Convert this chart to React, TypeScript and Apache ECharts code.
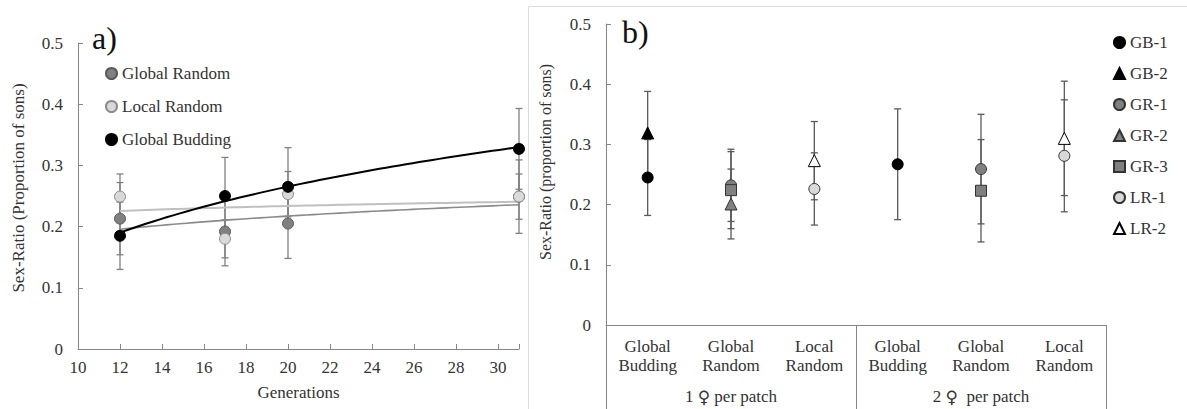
import React, { useEffect, useRef } from "react";
import * as echarts from "echarts";

// ---------- Panel a data ----------
const generations = [12, 17, 20, 31];
const globalRandomMean = [0.213, 0.192, 0.205, 0.249];
const globalRandomErr = [0.059, 0.056, 0.057, 0.06];
const localRandomMean = [0.249, 0.18, 0.253, 0.249];
const localRandomErr = [0.037, 0.031, 0.037, 0.037];
const globalBuddingMean = [0.185, 0.25, 0.265, 0.327];
const globalBuddingErr = [0.055, 0.063, 0.064, 0.066];

// ---------- Panel b data ----------
const treatments = [
  "Global\nBudding",
  "Global\nRandom",
  "Local\nRandom",
  "Global\nBudding",
  "Global\nRandom",
  "Local\nRandom",
];
const patchGroups = ["1 ♀ per patch", "2 ♀  per patch"];
// [category index, mean, error]
const gb1 = [[0, 0.245, 0.063], [3, 0.267, 0.092]];
const gb2 = [[0, 0.319, 0.069]];
const gr1 = [[1, 0.232, 0.06], [4, 0.259, 0.091]];
const gr2 = [[1, 0.201, 0.058]];
const gr3 = [[1, 0.224, 0.064], [4, 0.223, 0.085]];
const lr1 = [[2, 0.226, 0.06], [5, 0.281, 0.093]];
const lr2 = [[2, 0.273, 0.065], [5, 0.31, 0.095]];

const FONT = "Liberation Serif";
const TEXT = "#333";
const AXIS = "#868686";

function logFit(xs: number[], ys: number[]) {
  const lx = xs.map((x) => Math.log(x));
  const n = xs.length;
  const mx = lx.reduce((a, b) => a + b, 0) / n;
  const my = ys.reduce((a, b) => a + b, 0) / n;
  let sxy = 0,
    sxx = 0;
  for (let i = 0; i < n; i++) {
    sxy += (lx[i] - mx) * (ys[i] - my);
    sxx += (lx[i] - mx) * (lx[i] - mx);
  }
  const b = sxy / sxx;
  const a = my - b * mx;
  return (x: number) => a + b * Math.log(x);
}

function trendData(xs: number[], ys: number[]) {
  const f = logFit(xs, ys);
  const lo = Math.min(...xs);
  const hi = Math.max(...xs);
  const pts: number[][] = [];
  const steps = 60;
  for (let i = 0; i <= steps; i++) {
    const x = lo + ((hi - lo) * i) / steps;
    pts.push([x, f(x)]);
  }
  return pts;
}

function errorBarSeries(
  name: string,
  data: number[][],
  xAxisIndex: number,
  yAxisIndex: number,
  color: string
) {
  return {
    type: "custom",
    name,
    xAxisIndex,
    yAxisIndex,
    z: 1,
    silent: true,
    encode: { x: 0, y: [1, 2] },
    data,
    renderItem: (params: any, api: any) => {
      const x = api.value(0);
      const lo = api.coord([x, api.value(1)]);
      const hi = api.coord([x, api.value(2)]);
      const w = 3.5;
      const style = { stroke: color, lineWidth: 1.3 };
      return {
        type: "group",
        children: [
          { type: "line", shape: { x1: lo[0], y1: lo[1], x2: hi[0], y2: hi[1] }, style },
          { type: "line", shape: { x1: lo[0] - w, y1: lo[1], x2: lo[0] + w, y2: lo[1] }, style },
          { type: "line", shape: { x1: hi[0] - w, y1: hi[1], x2: hi[0] + w, y2: hi[1] }, style },
        ],
      };
    },
  };
}

const toBars = (xs: number[], means: number[], errs: number[]) =>
  xs.map((x, i) => [x, means[i] - errs[i], means[i] + errs[i]]);
const toBarsB = (d: number[][]) => d.map((r) => [r[0], r[1] - r[2], r[1] + r[2]]);

export default function App() {
  const ref = useRef<HTMLDivElement>(null);

  useEffect(() => {
    document.body.style.margin = "0";
    if (!ref.current) return;
    const chart = echarts.init(ref.current, null, { renderer: "svg" });

    const panelASeries = [
      { name: "Global Random", mean: globalRandomMean, err: globalRandomErr, fill: "#808080", border: "#595959", trend: "#8a8a8a", tw: 1.6 },
      { name: "Local Random", mean: localRandomMean, err: localRandomErr, fill: "#d9d9d9", border: "#8c8c8c", trend: "#c0c0c0", tw: 2 },
      { name: "Global Budding", mean: globalBuddingMean, err: globalBuddingErr, fill: "#000000", border: "#000000", trend: "#000000", tw: 2 },
    ];

    const panelBSeries = [
      { name: "GB-1", data: gb1, symbol: "circle", fill: "#000000", border: "#000000", size: 11 },
      { name: "GB-2", data: gb2, symbol: "triangle", fill: "#000000", border: "#000000", size: 12 },
      { name: "GR-1", data: gr1, symbol: "circle", fill: "#808080", border: "#333333", size: 11 },
      { name: "GR-2", data: gr2, symbol: "triangle", fill: "#808080", border: "#333333", size: 12 },
      { name: "GR-3", data: gr3, symbol: "rect", fill: "#808080", border: "#333333", size: 11 },
      { name: "LR-1", data: lr1, symbol: "circle", fill: "#d9d9d9", border: "#333333", size: 11 },
      { name: "LR-2", data: lr2, symbol: "triangle", fill: "#ffffff", border: "#000000", size: 12 },
    ];

    const series: any[] = [];
    panelASeries.forEach((s) => {
      series.push(errorBarSeries(s.name + " err", toBars(generations, s.mean, s.err), 0, 0, "#808080"));
    });
    panelASeries.forEach((s) => {
      series.push({
        type: "line",
        name: s.name + " trend",
        xAxisIndex: 0,
        yAxisIndex: 0,
        data: trendData(generations, s.mean),
        showSymbol: false,
        symbol: "none",
        silent: true,
        z: 2,
        lineStyle: { color: s.trend, width: s.tw },
      });
    });
    panelASeries.forEach((s) => {
      series.push({
        type: "scatter",
        name: s.name,
        xAxisIndex: 0,
        yAxisIndex: 0,
        symbol: "circle",
        symbolSize: 11,
        z: 3,
        data: generations.map((g, i) => [g, s.mean[i]]),
        itemStyle: { color: s.fill, borderColor: s.border, borderWidth: 1, opacity: 1 },
      });
    });
    panelBSeries.forEach((s) => {
      series.push(errorBarSeries(s.name + " err", toBarsB(s.data), 1, 1, "#5a5a5a"));
    });
    panelBSeries.forEach((s) => {
      series.push({
        type: "scatter",
        name: s.name,
        xAxisIndex: 1,
        yAxisIndex: 1,
        symbol: s.symbol,
        symbolSize: s.size,
        z: 3,
        data: s.data.map((r) => [r[0], r[1]]),
        itemStyle: { color: s.fill, borderColor: s.border, borderWidth: 1, opacity: 1 },
      });
    });

    const tickLabel = { fontFamily: FONT, fontSize: 17, color: TEXT };

    chart.setOption({
      animation: false,
      backgroundColor: "#ffffff",
      textStyle: { fontFamily: FONT },
      grid: [
        { left: 78, top: 43, width: 441, height: 306 },
        { left: 606, top: 24, width: 500, height: 301 },
      ],
      xAxis: [
        {
          type: "value",
          gridIndex: 0,
          min: 10,
          max: 31,
          interval: 2,
          name: "Generations",
          nameLocation: "middle",
          nameGap: 35,
          nameTextStyle: { fontFamily: FONT, fontSize: 17, color: TEXT },
          axisLine: { show: true, onZero: false, lineStyle: { color: AXIS, width: 1 } },
          axisTick: { show: true, inside: true, length: 5, lineStyle: { color: AXIS } },
          axisLabel: {
            ...tickLabel,
            margin: 10,
            formatter: (v: number) => (v === 31 ? "" : String(v)),
          },
          splitLine: { show: false },
        },
        {
          type: "category",
          gridIndex: 1,
          data: treatments,
          boundaryGap: true,
          axisLine: { show: true, onZero: false, lineStyle: { color: AXIS, width: 1 } },
          axisTick: { show: false },
          axisLabel: { ...tickLabel, interval: 0, margin: 12, lineHeight: 19 },
          splitLine: { show: false },
        },
        {
          type: "category",
          gridIndex: 1,
          data: patchGroups,
          position: "bottom",
          boundaryGap: true,
          axisLine: { show: false, onZero: false },
          axisTick: { show: true, interval: 0, length: 90, inside: false, lineStyle: { color: AXIS } },
          axisLabel: {
            ...tickLabel,
            interval: 0,
            margin: 63,
            formatter: (v: string) => v.replace("♀", "{f|♀}"),
            rich: {
              f: { fontFamily: "DejaVu Sans", fontSize: 17, color: TEXT },
            },
          },
          splitLine: { show: false },
        },
      ],
      yAxis: [
        {
          type: "value",
          gridIndex: 0,
          min: 0,
          max: 0.5,
          interval: 0.1,
          axisLine: { show: true, lineStyle: { color: AXIS, width: 1 } },
          axisTick: { show: true, inside: true, length: 5, lineStyle: { color: AXIS } },
          axisLabel: { ...tickLabel, margin: 15 },
          splitLine: { show: false },
        },
        {
          type: "value",
          gridIndex: 1,
          min: 0,
          max: 0.5,
          interval: 0.1,
          axisLine: { show: true, lineStyle: { color: AXIS, width: 1 } },
          axisTick: { show: true, inside: true, length: 5, lineStyle: { color: AXIS } },
          axisLabel: { ...tickLabel, margin: 15 },
          splitLine: { show: false },
        },
      ],
      legend: [
        {
          data: ["Global Random", "Local Random", "Global Budding"],
          orient: "vertical",
          left: 100,
          top: 60,
          itemWidth: 11,
          itemHeight: 11,
          itemGap: 16,
          selectedMode: false,
          textStyle: { fontFamily: FONT, fontSize: 17, color: TEXT, lineHeight: 17 },
        },
        {
          data: ["GB-1", "GB-2", "GR-1", "GR-2", "GR-3", "LR-1", "LR-2"],
          orient: "vertical",
          left: 1108,
          top: 29,
          itemWidth: 11,
          itemHeight: 11,
          itemGap: 14,
          selectedMode: false,
          textStyle: { fontFamily: FONT, fontSize: 17, color: TEXT, lineHeight: 17 },
        },
      ],
      graphic: [
        {
          type: "rect",
          z: -1,
          shape: { x: 528.5, y: 6.5, width: 800, height: 500 },
          style: { fill: "none", stroke: "#dcdcdc", lineWidth: 1 },
          silent: true,
        },
        {
          type: "text",
          left: 92,
          top: 22,
          style: { text: "a)", fontFamily: FONT, fontSize: 32, fill: "#111" },
        },
        {
          type: "text",
          left: 622,
          top: 16,
          style: { text: "b)", fontFamily: FONT, fontSize: 32, fill: "#111" },
        },
        {
          type: "text",
          x: 18,
          y: 188,
          rotation: Math.PI / 2,
          style: {
            text: "Sex-Ratio (Proportion of sons)",
            fontFamily: FONT,
            fontSize: 17,
            fill: TEXT,
            align: "center",
            verticalAlign: "middle",
          },
        },
        {
          type: "text",
          x: 545,
          y: 162,
          rotation: Math.PI / 2,
          style: {
            text: "Sex-Ratio (proportion of sons)",
            fontFamily: FONT,
            fontSize: 16,
            fill: TEXT,
            align: "center",
            verticalAlign: "middle",
          },
        },
      ],
      series,
    });

    return () => chart.dispose();
  }, []);

  return <div ref={ref} style={{ width: 1187, height: 409 }} />;
}
